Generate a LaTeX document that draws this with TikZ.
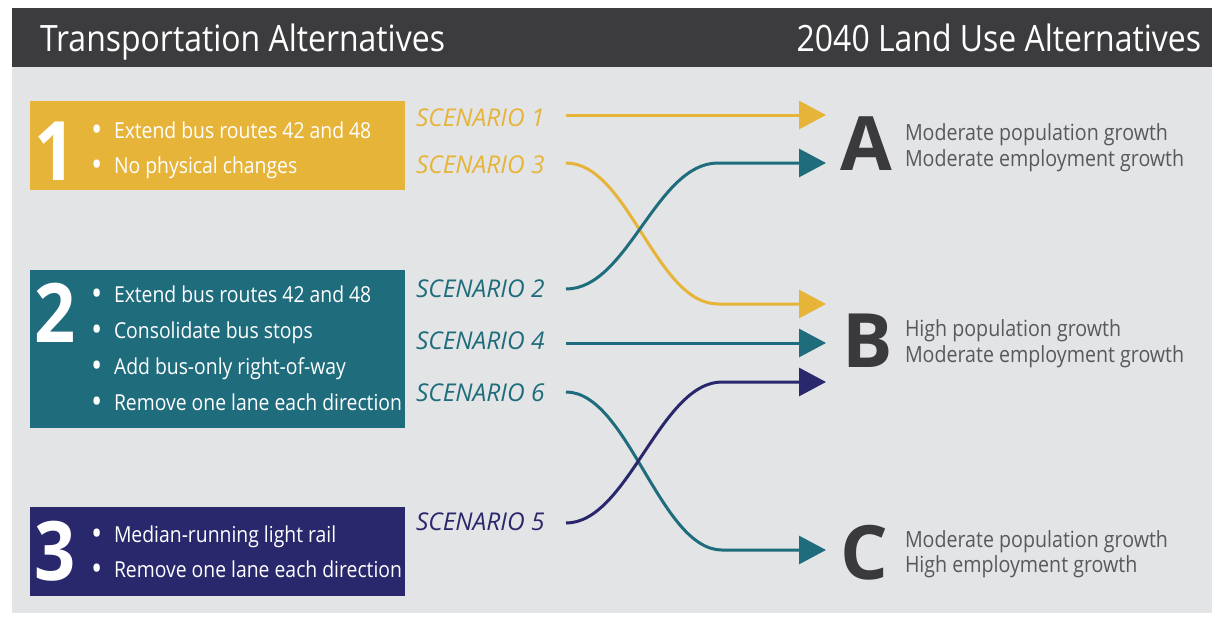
\documentclass[tikz,border=0pt]{standalone}
\usepackage{fontspec}
\setmainfont{Open Sans}
\newfontfamily\condfont[FakeStretch=0.88]{Open Sans}
\usetikzlibrary{arrows.meta}
\definecolor{hdr}{HTML}{3C3C3E}
\definecolor{panel}{HTML}{E3E4E5}
\definecolor{yel}{HTML}{E7B43A}
\definecolor{tealc}{HTML}{1F6C7D}
\definecolor{navy}{HTML}{2A286C}
\definecolor{dk}{HTML}{3A3A3C}
\definecolor{gr}{HTML}{58595B}
\begin{document}
\begin{tikzpicture}[x=1pt,y=-1pt,
  every node/.style={inner sep=0pt, outer sep=0pt},
  hdrtxt/.style={text=white, font=\condfont\fontsize{36.3}{36.3}\selectfont},
  item/.style={text=white, font=\condfont\fontsize{22}{22}\selectfont, anchor=base west},
  digit/.style={text=white, font=\condfont\fontsize{82}{82}\selectfont\bfseries, anchor=base west},
  scen/.style={font=\fontsize{24.5}{24.5}\selectfont\itshape, anchor=base west},
  big/.style={text=dk, font=\fontsize{75}{75}\selectfont\bfseries, anchor=base west},
  desc/.style={text=gr, font=\condfont\fontsize{22.3}{22.3}\selectfont, anchor=base west},
  altbox/.style={anchor=north west, minimum width=375pt},
  conn/.style={line width=3pt, -{Triangle[length=27pt,width=28pt]}},
]
\newcommand{\bul}{\makebox[23pt][l]{\raisebox{-3.5pt}{\fontsize{34}{34}\selectfont\textbullet}}}
\useasboundingbox (0,0) rectangle (1212,618);
\fill[white] (0,0) rectangle (1212,618);
\fill[panel] (12,67) rectangle (1212,613);
\fill[hdr] (12,8) rectangle (1212,67);
\node[hdrtxt, anchor=base west] (h1) at (40,52) {Transportation Alternatives};
\node[hdrtxt, anchor=base east] (h2) at (1201,52) {2040 Land Use Alternatives};

% boxes
\node[altbox, fill=yel, minimum height=89pt] (box1) at (30,101) {};
\node[altbox, fill=tealc, minimum height=158pt] (box2) at (30,270) {};
\node[altbox, fill=navy, minimum height=89pt] (box3) at (30,507) {};

\node[digit] (d1) at (34,180) {1};
\node[digit] (d2) at (34,342) {2};
\node[digit] (d3) at (34,580) {3};

\node[item] (i11) at (91,138) {\bul Extend bus routes 42 and 48};
\node[item] (i12) at (91,173) {\bul No physical changes};
\node[item] (i21) at (91,302) {\bul Extend bus routes 42 and 48};
\node[item] (i22) at (91,338) {\bul Consolidate bus stops};
\node[item] (i23) at (91,374) {\bul Add bus-only right-of-way};
\node[item] (i24) at (91,410) {\bul Remove one lane each direction};
\node[item] (i31) at (91,542) {\bul Median-running light rail};
\node[item] (i32) at (91,577) {\bul Remove one lane each direction};

% scenario labels
\node[scen, text=yel] (s1) at (416,126) {SCENARIO 1};
\node[scen, text=yel] (s3) at (416,173) {SCENARIO 3};
\node[scen, text=tealc] (s2) at (416,297) {SCENARIO 2};
\node[scen, text=tealc] (s4) at (416,349) {SCENARIO 4};
\node[scen, text=tealc] (s6) at (416,401) {SCENARIO 6};
\node[scen, text=navy] (s5) at (416,530) {SCENARIO 5};

% land use
\node[big] (A) at (840,170) {A};
\node[big] (B) at (842,367) {B};
\node[big] (C) at (840,579) {C};
\node[desc] (a1) at (905,140) {Moderate population growth};
\node[desc] (a2) at (905,166) {Moderate employment growth};
\node[desc] (b1) at (905,336) {High population growth};
\node[desc] (b2) at (905,362) {Moderate employment growth};
\node[desc] (c1) at (905,547) {Moderate population growth};
\node[desc] (c2) at (905,572) {High employment growth};

% connector end points
\coordinate (o1) at (566,115);
\coordinate (o3) at (566,163);
\coordinate (o2) at (566,289);
\coordinate (o4) at (566,343);
\coordinate (o6) at (566,392);
\coordinate (o5) at (566,523);
\coordinate (tA1) at (826,115);
\coordinate (tA2) at (826,163);
\coordinate (tB1) at (826,304);
\coordinate (tB2) at (826,343);
\coordinate (tB3) at (826,382);
\coordinate (tC) at (826,550);
\coordinate (k3) at (718,304);
\coordinate (k2) at (718,163);
\coordinate (k6) at (722,550);
\coordinate (k5) at (722,382);

\draw[conn, yel] (o1) -- (tA1);
\draw[conn, yel] (o3) .. controls +(62,0) and +(-62,0) .. (k3) -- (tB1);
\draw[conn, tealc] (o2) .. controls +(62,0) and +(-62,0) .. (k2) -- (tA2);
\draw[conn, tealc] (o4) -- (tB2);
\draw[conn, tealc] (o6) .. controls +(62,0) and +(-62,0) .. (k6) -- (tC);
\draw[conn, navy] (o5) .. controls +(62,0) and +(-62,0) .. (k5) -- (tB3);
\end{tikzpicture}
\end{document}
